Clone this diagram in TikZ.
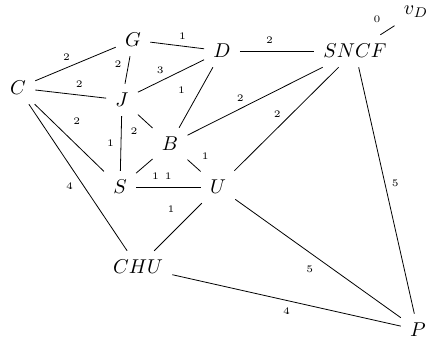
\documentclass[tikz,border=0pt]{standalone}
\usepackage{tikz}

\tikzset{wt/.style={font=\tiny,inner sep=3.33pt}}

\begin{document}
\begin{tikzpicture}[x=0.5pt,y=-0.5pt,every node/.style={inner sep=4.5pt}]
\useasboundingbox (0,0) rectangle (433,347);
% Places
\node (G) at (133,40) {$G$};
\node (D) at (222,51) {$D$};
\node (SNCF) at (355,51) {$SNCF$};
\node (vD) at (416,12) {$v_D$};
\node (C) at (18,88) {$C$};
\node (J) at (122,100) {$J$};
\node (B) at (170,144) {$B$};
\node (S) at (120,187) {$S$};
\node (U) at (218,187) {$U$};
\node (CHU) at (138,267) {$CHU$};
\node (P) at (418,330) {$P$};
% Upper part
\draw (C) -- node [wt,pos=0.39,above] {2} (G);
\draw (G) -- node [wt,pos=0.6,above] {1} (D);
\draw (G) -- node [wt,pos=0.3,left] {2} (J);
\draw (C) -- node [wt,pos=0.62,above] {2} (J);
\draw (J) -- node [wt,pos=0.34,above] {3} (D);
\draw (D) -- node [wt,pos=0.38,left,xshift=-4pt] {1} (B);
\draw (D) -- node [wt,pos=0.4,above] {2} (SNCF);
\draw (SNCF) -- node [wt,pos=0.61,above] {2} (B);
\draw (SNCF) -- node [wt,pos=0.45,left,xshift=-2pt] {2} (U);
\draw (SNCF) -- node [wt,pos=0.47,right] {5} (P);
\draw (SNCF) -- node [wt,above left] {0} (vD);
% Middle part
\draw (C) -- node [wt,pos=0.4,above right,xshift=2pt] {2} (S);
\draw (C) -- node [wt,pos=0.56,left,xshift=-2pt] {4} (CHU);
\draw (J) -- node [wt,left] {1} (S);
\draw (J) -- node [wt,pos=0.45,below left] {2} (B);
\draw (B) -- node [wt,pos=0.45,below right] {1} (S);
\draw (B) -- node [wt,pos=0.55,above right] {1} (U);
\draw (S) -- node [wt,above] {1} (U);
% Lower part
\draw (U) -- node [wt,pos=0.34,above left,xshift=-2pt] {1} (CHU);
\draw (U) -- node [wt,pos=0.45,below,yshift=-3pt] {5} (P);
\draw (CHU) -- node [wt,below] {4} (P);
\end{tikzpicture}
\end{document}
